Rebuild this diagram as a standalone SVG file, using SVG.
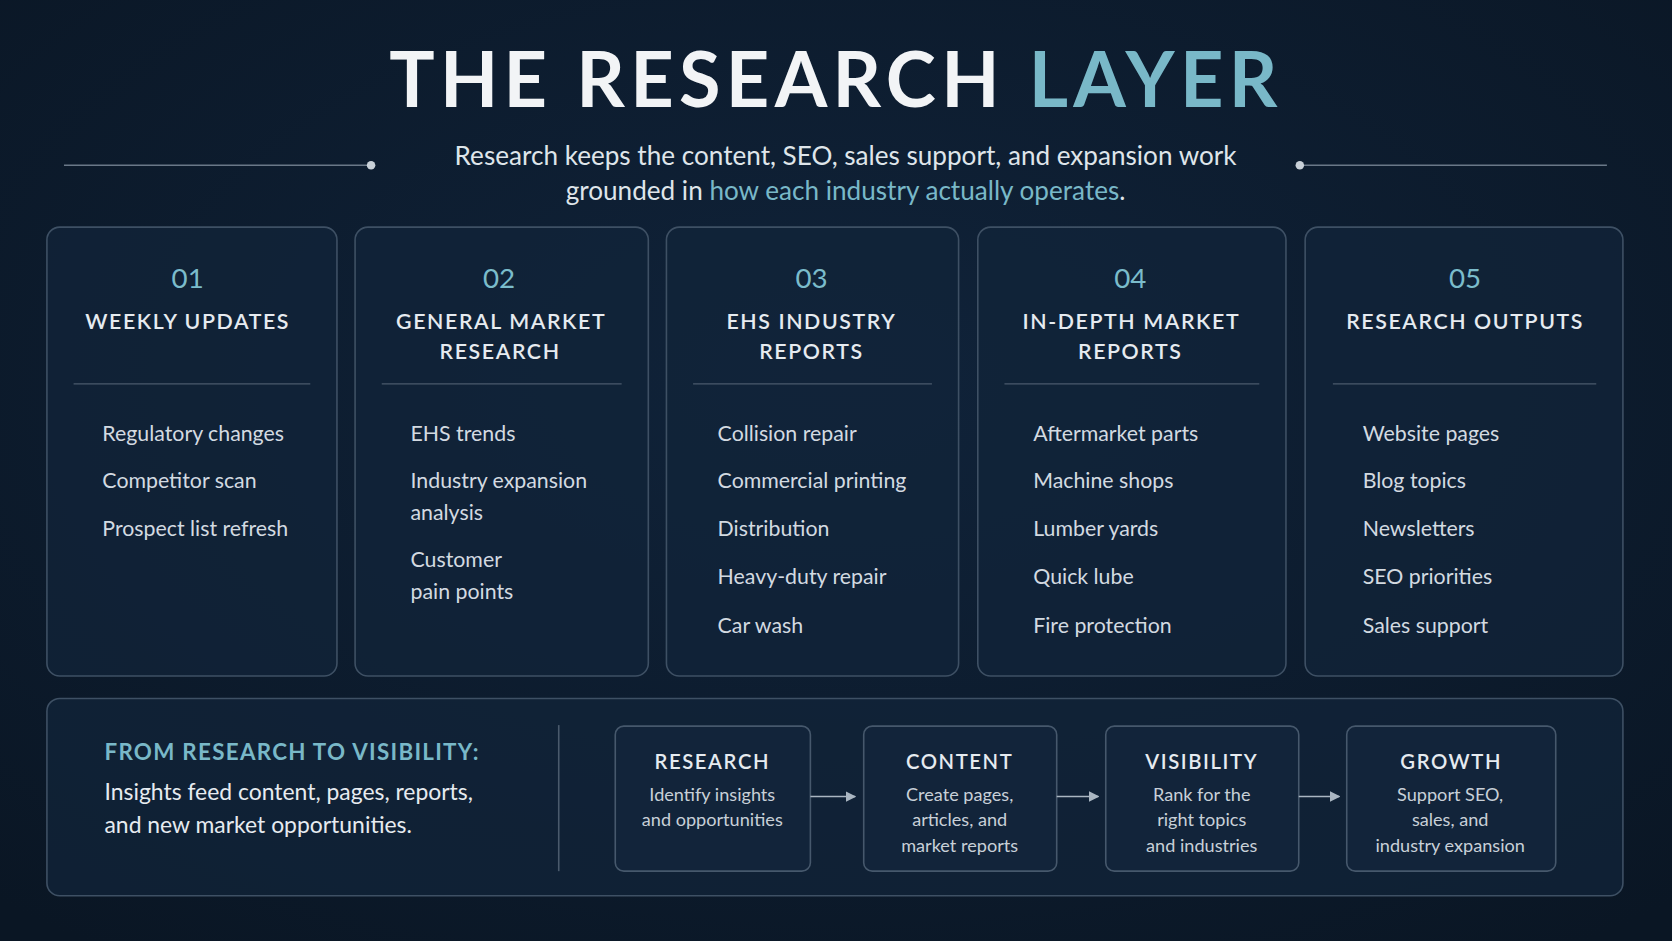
<svg xmlns="http://www.w3.org/2000/svg" width="1672" height="941" viewBox="0 0 1672 941">
<defs>
<radialGradient id="bg" cx="50%" cy="40%" r="75%"><stop offset="0" stop-color="#10233a"/><stop offset="1" stop-color="#0a1624"/></radialGradient>
<marker id="ah" markerWidth="10" markerHeight="10" refX="9" refY="5" orient="auto" markerUnits="userSpaceOnUse"><path d="M0,0 L10,5 L0,10 z" fill="#aab6c2"/></marker>
<style>
text{font-family:"Lato","Liberation Sans",sans-serif}
.card{fill:#12243a;fill-opacity:0.75;stroke:#3e5064;stroke-width:1.5}
.num{fill:#7bbccb;font-size:26px;text-anchor:middle}
.ct{fill:#e6ebf0;font-size:20px;text-anchor:middle;letter-spacing:1.5px;font-weight:600}
.it{fill:#d3dae1;font-size:20px}
.div{stroke:#4a5a6c;stroke-width:1.2}
.bx{fill:#12243a;stroke:#46586c;stroke-width:1.5}
.bt{fill:#e6ebf0;font-size:19px;text-anchor:middle;letter-spacing:1.5px;font-weight:600}
.bb{fill:#c8d0d8;font-size:17px;text-anchor:middle}
.conn{stroke:#aab6c2;stroke-width:1.5;fill:none}
</style>
</defs>
<rect width="1672" height="941" fill="url(#bg)"/>
<g transform="scale(1.0663)">
<g id="header">
<text x="784" y="100" text-anchor="middle" font-size="71" font-weight="700" letter-spacing="5" fill="#f2f4f6">THE RESEARCH <tspan fill="#79b8c8">LAYER</tspan></text>
<line x1="60" y1="155" x2="348" y2="155" stroke="#6a7888" stroke-width="1.5"/><circle cx="348" cy="155" r="4" fill="#c8d0d8"/>
<line x1="1219" y1="155" x2="1507" y2="155" stroke="#6a7888" stroke-width="1.5"/><circle cx="1219" cy="155" r="4" fill="#c8d0d8"/>
<text x="793" y="155" text-anchor="middle" font-size="24.5" fill="#dfe5ea">Research keeps the content, SEO, sales support, and expansion work</text>
<text x="793" y="188" text-anchor="middle" font-size="24.5" fill="#dfe5ea">grounded in <tspan fill="#79b8c8">how each industry actually operates</tspan>.</text>
</g>
<g id="card1"><rect class="card" x="44" y="213" width="272" height="421" rx="12"/>
<text class="num" x="176" y="270">01</text><text class="ct" x="176" y="309">WEEKLY UPDATES</text>
<line class="div" x1="69" y1="360" x2="291" y2="360"/>
<text class="it" x="96" y="414">Regulatory changes</text><text class="it" x="96" y="458">Competitor scan</text><text class="it" x="96" y="503">Prospect list refresh</text></g>
<g id="card2"><rect class="card" x="333" y="213" width="275" height="421" rx="12"/>
<text class="num" x="468" y="270">02</text><text class="ct" x="470" y="309">GENERAL MARKET</text><text class="ct" x="469" y="337">RESEARCH</text>
<line class="div" x1="358" y1="360" x2="583" y2="360"/>
<text class="it" x="385" y="414">EHS trends</text><text class="it" x="385" y="458">Industry expansion</text><text class="it" x="385" y="488">analysis</text><text class="it" x="385" y="532">Customer</text><text class="it" x="385" y="562">pain points</text></g>
<g id="card3"><rect class="card" x="625" y="213" width="274" height="421" rx="12"/>
<text class="num" x="761" y="270">03</text><text class="ct" x="761" y="309">EHS INDUSTRY</text><text class="ct" x="761" y="337">REPORTS</text>
<line class="div" x1="650" y1="360" x2="874" y2="360"/>
<text class="it" x="673" y="414">Collision repair</text><text class="it" x="673" y="458">Commercial printing</text><text class="it" x="673" y="503">Distribution</text><text class="it" x="673" y="548">Heavy-duty repair</text><text class="it" x="673" y="594">Car wash</text></g>
<g id="card4"><rect class="card" x="917" y="213" width="289" height="421" rx="12"/>
<text class="num" x="1060" y="270">04</text><text class="ct" x="1061" y="309">IN-DEPTH MARKET</text><text class="ct" x="1060" y="337">REPORTS</text>
<line class="div" x1="942" y1="360" x2="1181" y2="360"/>
<text class="it" x="969" y="414">Aftermarket parts</text><text class="it" x="969" y="458">Machine shops</text><text class="it" x="969" y="503">Lumber yards</text><text class="it" x="969" y="548">Quick lube</text><text class="it" x="969" y="594">Fire protection</text></g>
<g id="card5"><rect class="card" x="1224" y="213" width="298" height="421" rx="12"/>
<text class="num" x="1374" y="270">05</text><text class="ct" x="1374" y="309">RESEARCH OUTPUTS</text>
<line class="div" x1="1250" y1="360" x2="1497" y2="360"/>
<text class="it" x="1278" y="414">Website pages</text><text class="it" x="1278" y="458">Blog topics</text><text class="it" x="1278" y="503">Newsletters</text><text class="it" x="1278" y="548">SEO priorities</text><text class="it" x="1278" y="594">Sales support</text></g>
<g id="panel"><rect class="card" x="44" y="655" width="1478" height="185" rx="12"/>
<text x="98" y="713" font-size="21" font-weight="700" letter-spacing="1.2" fill="#79b8c8">FROM RESEARCH TO VISIBILITY:</text>
<text x="98" y="750" font-size="21.5" fill="#e6ebf0">Insights feed content, pages, reports,</text>
<text x="98" y="781" font-size="21.5" fill="#e6ebf0">and new market opportunities.</text>
<line x1="524" y1="680" x2="524" y2="817" stroke="#4a5a6c" stroke-width="1.5"/></g>
<g id="research"><rect class="bx" x="577" y="681" width="183" height="136" rx="8"/><text class="bt" x="668" y="721">RESEARCH</text><text class="bb" x="668" y="751">Identify insights</text><text class="bb" x="668" y="775">and opportunities</text></g>
<g id="content"><rect class="bx" x="810" y="681" width="181" height="136" rx="8"/><text class="bt" x="900" y="721">CONTENT</text><text class="bb" x="900" y="751">Create pages,</text><text class="bb" x="900" y="775">articles, and</text><text class="bb" x="900" y="799">market reports</text></g>
<g id="visibility"><rect class="bx" x="1037" y="681" width="181" height="136" rx="8"/><text class="bt" x="1127" y="721">VISIBILITY</text><text class="bb" x="1127" y="751">Rank for the</text><text class="bb" x="1127" y="775">right topics</text><text class="bb" x="1127" y="799">and industries</text></g>
<g id="growth"><rect class="bx" x="1263" y="681" width="196" height="136" rx="8"/><text class="bt" x="1361" y="721">GROWTH</text><text class="bb" x="1360" y="751">Support SEO,</text><text class="bb" x="1360" y="775">sales, and</text><text class="bb" x="1360" y="799">industry expansion</text></g>
<g id="connectors">
<line class="conn" x1="760" y1="747" x2="802" y2="747" marker-end="url(#ah)"/>
<line class="conn" x1="991" y1="747" x2="1030" y2="747" marker-end="url(#ah)"/>
<line class="conn" x1="1218" y1="747" x2="1256" y2="747" marker-end="url(#ah)"/>
</g>
</g>
</svg>
